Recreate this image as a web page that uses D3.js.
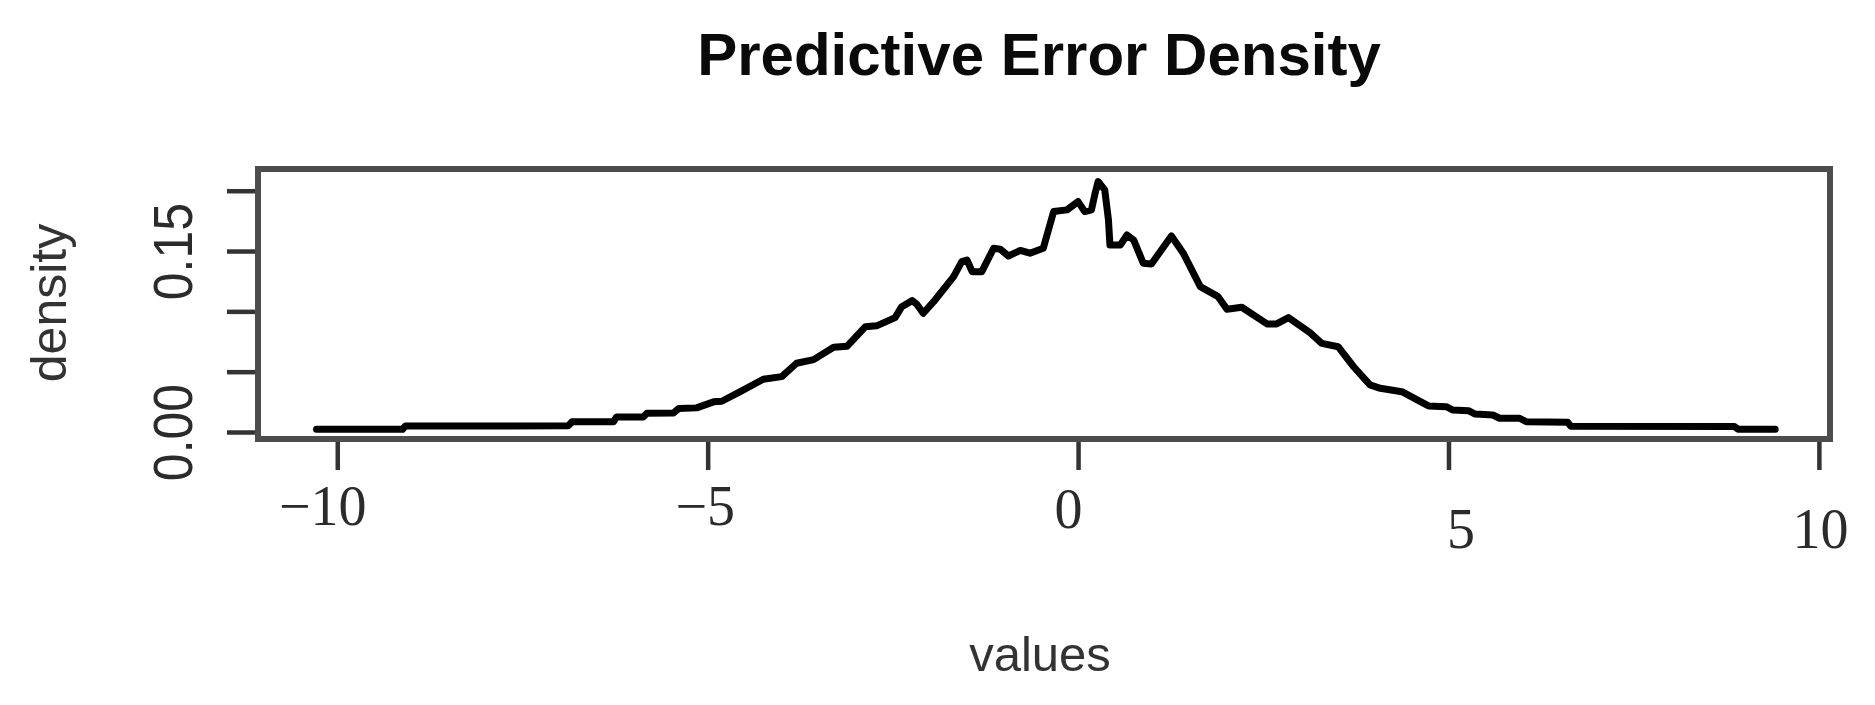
<!DOCTYPE html>
<html lang="en">
	<head>
		<meta charset="UTF-8">
		<title>Predictive Error Density</title>
		<style>
			body, html {
				margin: 0;
				padding: 0;
				background-color: #ffffff;
			}
		</style>
	</head>
	<body>
		<svg id="svg" width="1875" height="705"></svg>

		<script src="https://d3js.org/d3.v7.min.js"></script>
		<script>
			// density curve
			const errorValues = [-10.28, -9.12, -9.08, -7.80, -6.88, -6.83, -6.27, -6.23, -5.87, -5.82,
				-5.46, -5.39, -5.15, -4.92, -4.81, -4.56, -4.25, -4.00, -3.80, -3.57,
				-3.30, -3.12, -2.87, -2.72, -2.47, -2.38, -2.24, -2.18, -2.09, -1.95,
				-1.68, -1.57, -1.50, -1.43, -1.30, -1.14, -1.05, -0.94, -0.78, -0.65,
				-0.47, -0.33, -0.15, 0.00, 0.09, 0.18, 0.23, 0.27, 0.36, 0.41,
				0.43, 0.57, 0.66, 0.75, 0.88, 0.99, 1.26, 1.42, 1.65, 1.89,
				2.01, 2.21, 2.55, 2.68, 2.84, 3.13, 3.29, 3.51, 3.72, 3.94,
				4.08, 4.37, 4.73, 4.97, 5.06, 5.27, 5.36, 5.60, 5.69, 5.96,
				6.05, 6.61, 6.65, 8.86, 8.91, 9.41]
			const densityValues = [0.0022, 0.0022, 0.0050, 0.0050, 0.0052, 0.0085, 0.0085, 0.0125, 0.0125, 0.0155,
				0.0158, 0.0195, 0.0200, 0.0250, 0.0255, 0.0334, 0.0437, 0.0459, 0.0570, 0.0600,
				0.0702, 0.0710, 0.0873, 0.0880, 0.0948, 0.1039, 0.1089, 0.1061, 0.0984, 0.1080,
				0.1288, 0.1412, 0.1426, 0.1329, 0.1329, 0.1523, 0.1515, 0.1459, 0.1505, 0.1482,
				0.1523, 0.1827, 0.1841, 0.1910, 0.1827, 0.1841, 0.1979, 0.2076, 0.2007, 0.1758,
				0.1550, 0.1550, 0.1633, 0.1592, 0.1399, 0.1393, 0.1625, 0.1482, 0.1205, 0.1122,
				0.1017, 0.1034, 0.0896, 0.0896, 0.0948, 0.0823, 0.0735, 0.0707, 0.0541, 0.0390,
				0.0362, 0.0334, 0.0216, 0.0210, 0.0182, 0.0177, 0.0149, 0.0141, 0.0114, 0.0114,
				0.0085, 0.0080, 0.0048, 0.0046, 0.0022, 0.0022]

			const xTicks = [-10, -5, 0, 5, 10]
			const xTickLabels = ['\u221210', '\u22125', '0', '5', '10']
			const yTicks = [0, 0.05, 0.10, 0.15, 0.20]
			const yTickLabels = ['0.00', '', '', '0.15', '']

			// the source screenshot has the x labels a bit out of line
			const xLabelNudge = [[-15, 0], [-3, 0], [-10, 3], [12, 23], [1, 23]]

			const box = { left: 258, right: 1830, top: 169, bottom: 439 }
			const svg = d3.select('#svg')

			const x = d3.scaleLinear().domain([-11.07, 10.15]).range([box.left, box.right])
			const y = d3.scaleLinear().domain([-0.0058, 0.218]).range([box.bottom, box.top])

			const data = errorValues.map((v, i) => ({ v: v, d: densityValues[i] }))

			svg.append('text')
				.attr('x', 1039)
				.attr('y', 75)
				.attr('text-anchor', 'middle')
				.style('font-family', '"Liberation Sans", Arial, sans-serif')
				.style('font-weight', 'bold')
				.style('font-size', '60px')
				.attr('fill', '#0a0a0a')
				.text('Predictive Error Density')

			// y axis
			const yAxis = svg.append('g')
				.attr('transform', `translate(${box.left},0)`)
				.call(d3.axisLeft(y).tickValues(yTicks).tickSize(31).tickSizeOuter(0)
					.tickFormat((d, i) => yTickLabels[i]))
			yAxis.select('.domain').remove()
			yAxis.selectAll('.tick line').attr('stroke', '#333').attr('stroke-width', 4.5)
			yAxis.selectAll('.tick text')
				.attr('x', null).attr('dy', null)
				.attr('transform', `translate(-66,0) rotate(-90) scale(1,1.12)`)
				.attr('text-anchor', 'middle')
				.attr('fill', '#2b2b2b')
				.style('font-family', '"Liberation Sans", Arial, sans-serif')
				.style('font-size', '50px')

			// x axis
			const xAxis = svg.append('g')
				.attr('transform', `translate(0,${box.bottom})`)
				.call(d3.axisBottom(x).tickValues(xTicks).tickSize(31).tickSizeOuter(0)
					.tickFormat((d, i) => xTickLabels[i]))
			xAxis.select('.domain').remove()
			xAxis.selectAll('.tick line').attr('stroke', '#333').attr('stroke-width', 4.5)
			xAxis.selectAll('.tick text')
				.attr('y', 86).attr('dy', null)
				.attr('transform', (d, i) => `translate(${xLabelNudge[i][0]},${xLabelNudge[i][1]})`)
				.attr('fill', '#2b2b2b')
				.style('font-family', '"Liberation Serif", "Times New Roman", serif')
				.style('font-size', '56px')

			// frame
			svg.append('rect')
				.attr('x', box.left)
				.attr('y', box.top)
				.attr('width', box.right - box.left)
				.attr('height', box.bottom - box.top)
				.attr('fill', 'none')
				.attr('stroke', '#4d4d4d')
				.attr('stroke-width', 6)

			svg.append('path')
				.datum(data)
				.attr('fill', 'none')
				.attr('stroke', '#000')
				.attr('stroke-width', 7)
				.attr('stroke-linejoin', 'round')
				.attr('stroke-linecap', 'round')
				.attr('d', d3.line().x(p => x(p.v)).y(p => y(p.d)))

			svg.append('text')
				.attr('x', 1040)
				.attr('y', 671)
				.attr('text-anchor', 'middle')
				.style('font-family', '"Liberation Sans", Arial, sans-serif')
				.style('font-size', '49px')
				.attr('fill', '#333')
				.text('values')

			svg.append('text')
				.attr('transform', 'translate(66,303) rotate(-90)')
				.attr('text-anchor', 'middle')
				.style('font-family', '"Liberation Sans", Arial, sans-serif')
				.style('font-size', '50px')
				.attr('fill', '#333')
				.text('density')
		</script>
	</body>
</html>
